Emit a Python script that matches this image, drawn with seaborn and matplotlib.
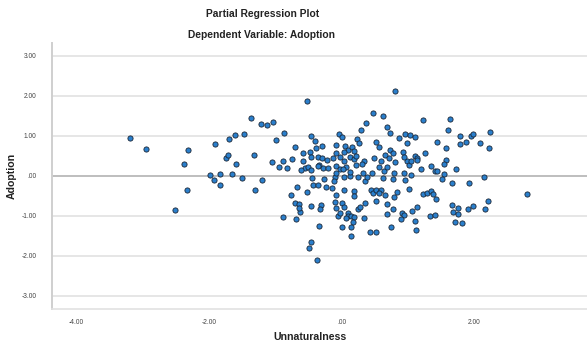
import matplotlib
matplotlib.use("Agg")
import matplotlib.pyplot as plt
import seaborn as sns
import pandas as pd

# Partial regression residuals: Unnaturalness (x) vs Adoption (y)
unnaturalness = [
    -3.19, -2.95, -2.32, -2.38, -2.33, -2.52, -1.91, -1.70, -1.61, -1.75,
    -1.71, -1.59, -1.99, -1.84, -1.65, -1.93, -1.84,
    0.81, -0.53, -1.37, -1.22, -1.12, -1.03, 0.47, 0.62, 0.37, 0.69,
    0.29, 0.73, 0.95, -1.47, -0.87, -0.99, -0.46, -0.40, -0.04, 0.00,
    0.23, 0.26, 0.51, 0.86, 0.98, -0.71, -0.30, -0.39, -0.09, 0.05,
    0.10, 0.15, 0.19, 0.03, 0.56, 0.73, 0.92, -1.33, -0.58, -0.48,
    -0.46, -0.36, -0.30, -0.22, -0.13, -0.08, -0.03, 0.03, 0.12, 0.18,
    0.22, 0.34, 0.49, 0.60, 0.65, 0.78, 0.72, 0.81, 0.98, -1.05,
    -0.89, -0.94, -0.82, -0.75, -0.59, -0.55, -0.62, -0.51, -0.47, -0.35,
    -0.28, -0.20, -0.09, -0.03, 0.07, 0.22, 0.32, 0.46, 0.64, 0.68,
    0.79, 0.94, -1.50, -1.20, -1.31, -0.45, -0.27, -0.10, -0.12, 0.04,
    0.12, 0.25, 0.35, 0.38, 0.62, 0.77, 0.95, -0.68, -0.52, -0.43,
    -0.36, -0.23, -0.14, 0.03, 0.18, 0.19, 0.44, 0.47, 0.52, 0.59,
    0.56, 0.51, 0.66, 0.79, 0.84, 1.02, -0.77, -0.71, -0.65, -0.63,
    -0.65, -0.47, -0.31, -0.32, -0.08, -0.10, -0.09, 0.00, 0.04, 0.24,
    0.28, 0.35, 0.68, 0.77, 0.68, 0.91, 0.94, 0.89, -0.89, -0.69,
    -0.06, -0.03, 0.10, 0.10, 0.14, 0.18, 0.07, 0.17, 0.34, -0.35,
    0.00, 0.14, 0.43, 0.51, 0.74, 0.14, -0.47, -0.49, -0.38,
    -0.09, 0.13, 0.02, 0.30, 0.57, 1.02, 0.94, -0.36,
    1.22, 1.64, 1.60, 1.03, 1.11, 1.78, 1.95, 1.98, 2.24, 1.87,
    1.79, 1.44, 2.09, 1.57, 2.22, 1.25, 1.11, 1.14, 1.05, 1.14,
    1.57, 1.55, 1.35, 1.40, 1.43, 1.20, 1.73, 1.55, 1.05, 1.51,
    1.67, 1.92, 2.14, 1.22, 1.28, 1.34, 1.37, 1.42, 2.79, 2.21,
    1.66, 1.76, 1.68, 1.76, 1.91, 1.98, 2.16, 1.13, 1.06, 1.33,
    1.41, 1.10, 1.12, 1.71, 1.81,
]
adoption = [
    0.96, 0.67, 0.64, 0.30, -0.34, -0.85, 0.79, 0.92, 1.03, 0.45,
    0.52, 0.29, 0.03, 0.04, 0.05, -0.11, -0.23,
    2.13, 1.87, 1.44, 1.29, 1.27, 1.35, 1.58, 1.51, 1.33, 1.23,
    1.16, 1.08, 1.06, 1.06, 1.07, 0.91, 1.01, 0.88, 1.04, 0.98,
    0.93, 0.83, 0.85, 0.96, 0.82, 0.73, 0.76, 0.69, 0.78, 0.76,
    0.65, 0.73, 0.63, 0.61, 0.73, 0.65, 0.61, 0.53, 0.57, 0.61,
    0.48, 0.47, 0.46, 0.39, 0.45, 0.57, 0.47, 0.38, 0.48, 0.42,
    0.49, 0.37, 0.46, 0.38, 0.52, 0.58, 0.44, 0.36, 0.38, 0.36,
    0.38, 0.22, 0.20, 0.43, 0.38, 0.21, 0.15, 0.22, 0.15, 0.27,
    0.20, 0.21, 0.25, 0.18, 0.23, 0.27, 0.08, 0.08, 0.13, 0.22,
    0.08, 0.07, -0.04, -0.10, -0.34, -0.04, -0.08, -0.03, -0.12, -0.02,
    0.01, -0.03, -0.13, -0.02, -0.05, -0.08, -0.11, -0.28, -0.39, -0.23,
    -0.23, -0.27, -0.30, -0.36, -0.38, -0.50, -0.35, -0.42, -0.35, -0.35,
    -0.43, -0.62, -0.48, -0.53, -0.41, -0.33, -0.48, -0.67, -0.70, -0.89,
    -0.79, -0.75, -0.72, -0.83, -0.48, -0.64, -0.81, -0.68, -0.77, -0.83,
    -0.77, -0.68, -0.71, -0.83, -0.95, -0.92, -0.98, -1.08, -1.03, -1.08,
    -1.01, -0.92, -0.92, -1.00, -1.00, -1.03, -1.06, -1.14, -1.06, -1.25,
    -1.27, -1.28, -1.39, -1.39, -1.28, -1.49, -1.65, -1.79, -2.09,
    0.07, 0.09, 0.17, 0.29, 0.23, 0.28, 0.47, 0.26,
    1.39, 1.43, 1.16, 1.03, 0.98, 1.00, 1.01, 1.05, 1.11, 0.86,
    0.79, 0.84, 0.83, 0.69, 0.70, 0.57, 0.51, 0.44, 0.38, 0.40,
    0.41, 0.30, 0.25, 0.13, 0.12, 0.17, 0.18, 0.05, 0.03, -0.08,
    -0.18, -0.18, -0.03, -0.46, -0.43, -0.38, -0.45, -0.57, -0.46, -0.62,
    -0.72, -0.79, -0.89, -0.95, -0.82, -0.76, -0.82, -0.78, -0.87, -1.00,
    -0.98, -1.12, -1.36, -1.14, -1.18,
]

y_ticks = [-3, -2, -1, 0, 1, 2, 3]
y_tick_labels = ["-3.00", "-2.00", "-1.00", ".00", "1.00", "2.00", "3.00"]
x_ticks = [-4, -2, 0, 2]
x_tick_labels = ["-4.00", "-2.00", ".00", "2.00"]

df = pd.DataFrame({"Unnaturalness": unnaturalness, "Adoption": adoption})

sns.set_theme(style="white")
plt.rcParams["font.family"] = ["Liberation Sans", "DejaVu Sans"]

W, H = 587, 349
fig = plt.figure(figsize=(W / 100, H / 100), dpi=100)
ax = fig.add_axes([52 / W, 1 - 309 / H, 1 - 52 / W, (309 - 43) / H])

# horizontal grid at the labelled y values, with a stronger zero line
for yv in y_ticks:
    ax.axhline(yv, color="#e4e4e4", lw=1.3, zorder=0)
ax.axhline(0, color="#b4b4b4", lw=1.1, zorder=1)

sns.scatterplot(data=df, x="Unnaturalness", y="Adoption", ax=ax,
                s=14, color="#2a7fcc", edgecolor="#1a2636", linewidth=0.6,
                zorder=3, legend=False)

ax.set_xlim(-4.37, 3.70)
ax.set_ylim(-3.325, 3.325)
ax.set_yticks(y_ticks)
ax.set_yticklabels(y_tick_labels)
ax.set_xticks(x_ticks)
ax.set_xticklabels(x_tick_labels)
ax.tick_params(axis="both", length=0, labelsize=4.8, labelcolor="#444444")
ax.tick_params(axis="y", pad=11)
ax.tick_params(axis="x", pad=7)
ax.set_xlabel("")
ax.set_ylabel("")

for side in ["top", "right"]:
    ax.spines[side].set_visible(False)
ax.spines["left"].set_color("#cfcfcf")
ax.spines["left"].set_linewidth(1.4)
ax.spines["bottom"].set_color("#e2e2e2")
ax.spines["bottom"].set_linewidth(1.2)

fig.text(263 / W, 1 - 14 / H, "Partial Regression Plot", ha="center", va="center",
         fontsize=7.4, fontweight="bold", color="#222222")
fig.text(261 / W, 1 - 35 / H, "Dependent Variable: Adoption", ha="center", va="center",
         fontsize=7.4, fontweight="bold", color="#222222")
fig.text(310 / W, 1 - 337 / H, "Unnaturalness", ha="center", va="center",
         fontsize=7.6, fontweight="bold", color="#222222")
fig.text(12 / W, 1 - 176 / H, "Adoption", ha="center", va="center", rotation=90,
         fontsize=7.6, fontweight="bold", color="#222222")

fig.savefig("out.png", dpi=100)
